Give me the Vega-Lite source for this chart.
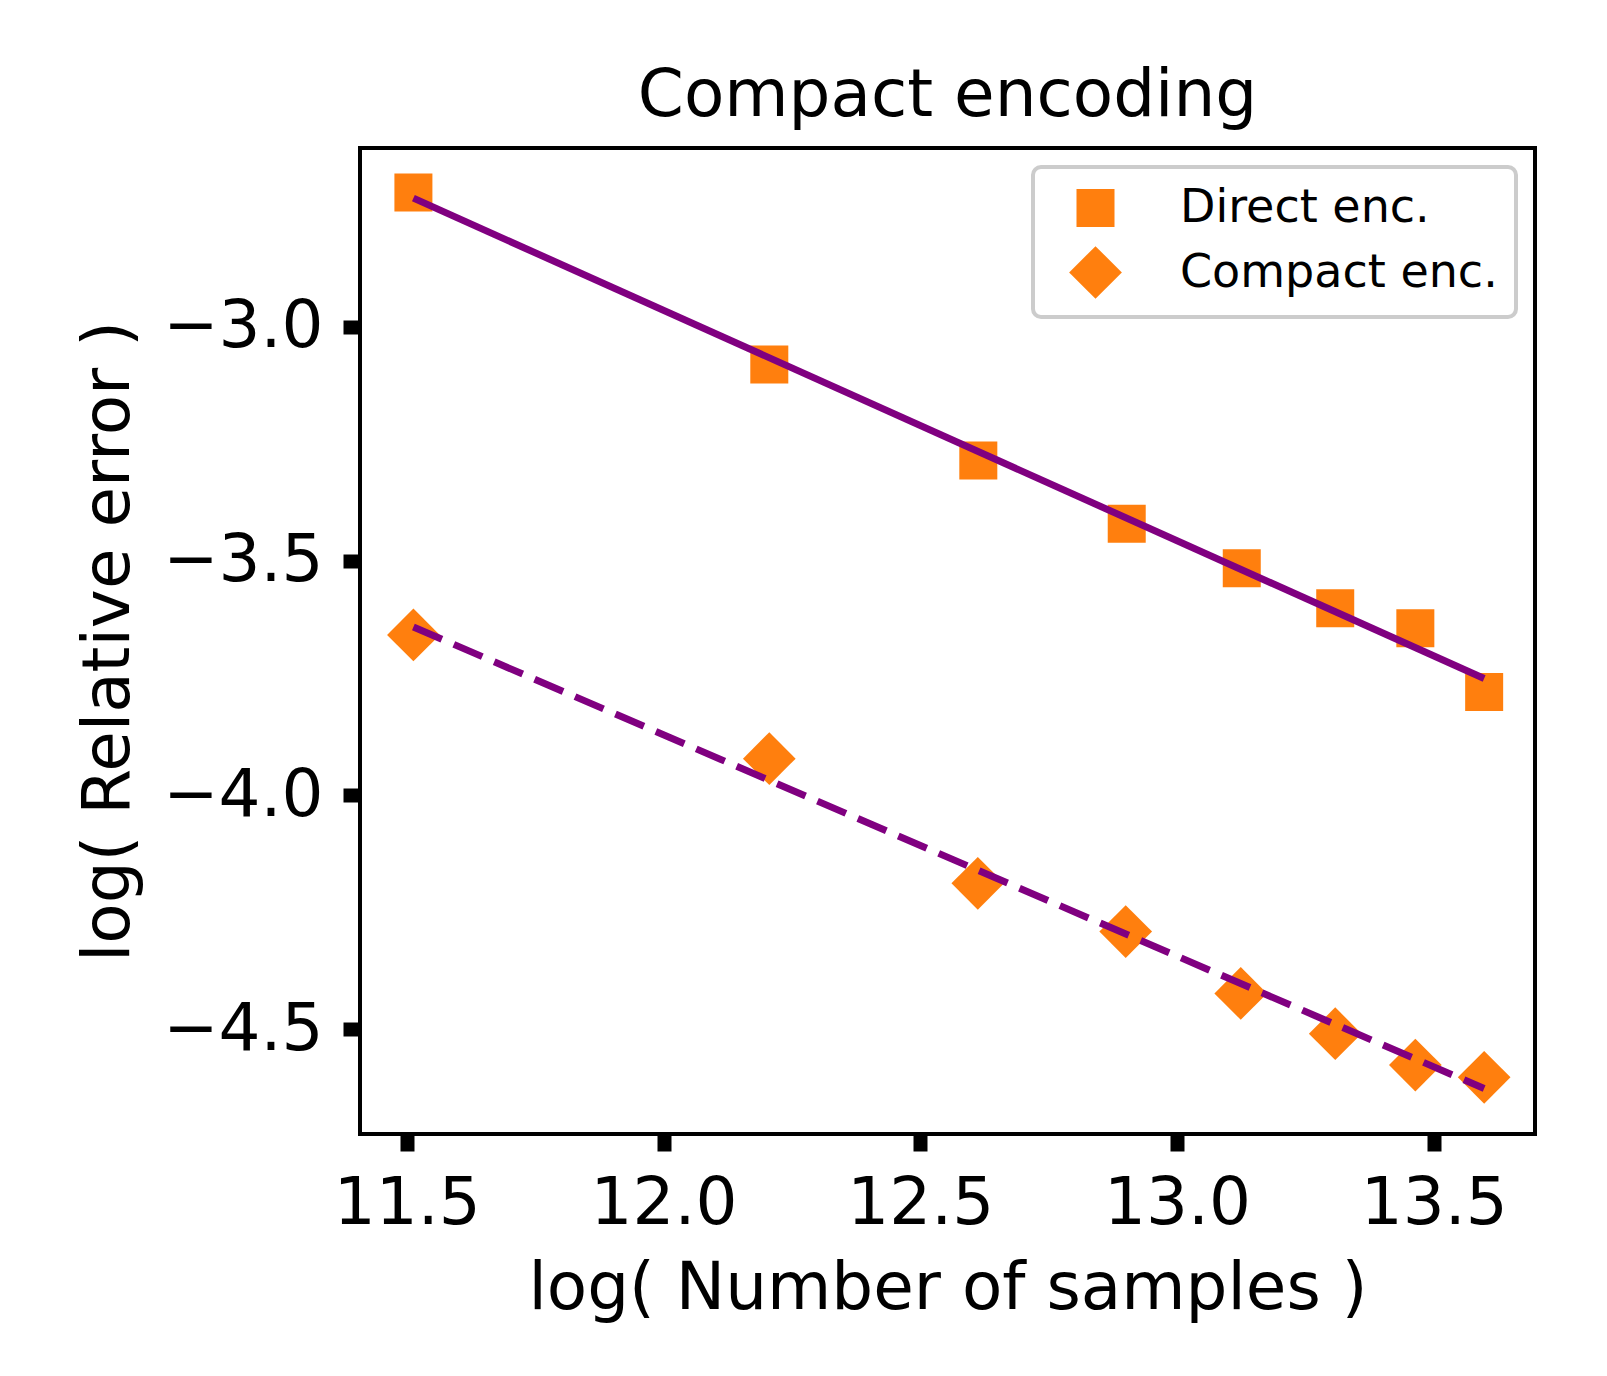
{
  "$schema": "https://vega.github.io/schema/vega-lite/v6.json",
  "autosize": "none",
  "width": 1175,
  "height": 986,
  "padding": {"left": 360, "top": 148, "right": 72, "bottom": 242},
  "background": "white",
  "config": {
    "font": "DejaVu Sans",
    "view": {"stroke": "black", "strokeWidth": 4, "fill": "white"},
    "axis": {
      "domain": false,
      "grid": false,
      "tickColor": "black",
      "tickWidth": 14,
      "tickSize": 17,
      "tickCap": "butt",
      "labelFont": "DejaVu Sans",
      "labelFontSize": 66,
      "labelColor": "black",
      "labelPadding": 20,
      "titleFont": "DejaVu Sans",
      "titleFontSize": 66,
      "titleFontWeight": "normal",
      "titleColor": "black",
      "titlePadding": 20
    },
    "legend": {"labelLimit": 600, "strokeWidth": 4},
    "title": {"font": "DejaVu Sans", "fontSize": 66, "fontWeight": "normal", "color": "black", "offset": 18}
  },
  "title": "Compact encoding",
  "datasets": {
    "pts": [
      {"x": 11.513, "y": -2.714, "series": "Direct enc."},
      {"x": 12.206, "y": -3.081, "series": "Direct enc."},
      {"x": 12.613, "y": -3.286, "series": "Direct enc."},
      {"x": 12.902, "y": -3.421, "series": "Direct enc."},
      {"x": 13.126, "y": -3.516, "series": "Direct enc."},
      {"x": 13.308, "y": -3.601, "series": "Direct enc."},
      {"x": 13.464, "y": -3.644, "series": "Direct enc."},
      {"x": 13.598, "y": -3.780, "series": "Direct enc."},
      {"x": 11.513, "y": -3.658, "series": "Compact enc."},
      {"x": 12.206, "y": -3.922, "series": "Compact enc."},
      {"x": 12.612, "y": -4.188, "series": "Compact enc."},
      {"x": 12.900, "y": -4.291, "series": "Compact enc."},
      {"x": 13.124, "y": -4.423, "series": "Compact enc."},
      {"x": 13.308, "y": -4.509, "series": "Compact enc."},
      {"x": 13.464, "y": -4.576, "series": "Compact enc."},
      {"x": 13.598, "y": -4.602, "series": "Compact enc."}
    ],
    "fitDirect": [
      {"x": 11.513, "y": -2.726},
      {"x": 13.598, "y": -3.751}
    ],
    "fitCompact": [
      {"x": 11.513, "y": -3.641},
      {"x": 13.598, "y": -4.626}
    ]
  },
  "encoding": {
    "x": {
      "field": "x", "type": "quantitative",
      "scale": {"domain": [11.409, 13.697], "nice": false, "zero": false},
      "axis": {"values": [11.5, 12.0, 12.5, 13.0, 13.5], "format": ".1f", "title": "log( Number of samples )"}
    },
    "y": {
      "field": "y", "type": "quantitative",
      "scale": {"domain": [-4.723, -2.619], "nice": false, "zero": false},
      "axis": {"values": [-4.5, -4.0, -3.5, -3.0], "format": ".1f", "title": "log( Relative error )"}
    }
  },
  "layer": [
    {
      "data": {"name": "pts"},
      "mark": {"type": "point", "filled": true, "color": "#ff7f0e", "opacity": 1, "strokeWidth": 0},
      "encoding": {
        "shape": {
          "field": "series", "type": "nominal",
          "scale": {"domain": ["Direct enc.", "Compact enc."], "range": ["square", "diamond"]},
          "legend": {
            "title": null,
            "orient": "top-right",
            "offset": 19,
            "padding": 18,
            "cornerRadius": 8,
            "fillColor": "white",
            "strokeColor": "#cccccc",
            "labelFont": "DejaVu Sans",
            "labelFontSize": 46,
            "labelColor": "black",
            "labelLimit": 600,
            "labelOffset": 58,
            "symbolOffset": 18,
            "rowPadding": 15,
            "symbolFillColor": "#ff7f0e",
            "symbolStrokeWidth": 0,
            "symbolOpacity": 1
          }
        },
        "size": {
          "field": "series", "type": "nominal",
          "scale": {"domain": ["Direct enc.", "Compact enc."], "range": [1444, 2777]},
          "legend": {
            "title": null,
            "orient": "top-right",
            "offset": 19,
            "padding": 18,
            "cornerRadius": 8,
            "fillColor": "white",
            "strokeColor": "#cccccc",
            "labelFont": "DejaVu Sans",
            "labelFontSize": 46,
            "labelColor": "black",
            "labelLimit": 600,
            "labelOffset": 58,
            "symbolOffset": 18,
            "rowPadding": 15,
            "symbolFillColor": "#ff7f0e",
            "symbolStrokeWidth": 0,
            "symbolOpacity": 1
          }
        }
      }
    },
    {
      "data": {"name": "fitDirect"},
      "mark": {"type": "line", "color": "#800080", "strokeWidth": 7, "strokeCap": "butt"},
      "encoding": {}
    },
    {
      "data": {"name": "fitCompact"},
      "mark": {"type": "line", "color": "#800080", "strokeWidth": 7, "strokeCap": "butt", "strokeDash": [31, 13]},
      "encoding": {}
    }
  ]
}
